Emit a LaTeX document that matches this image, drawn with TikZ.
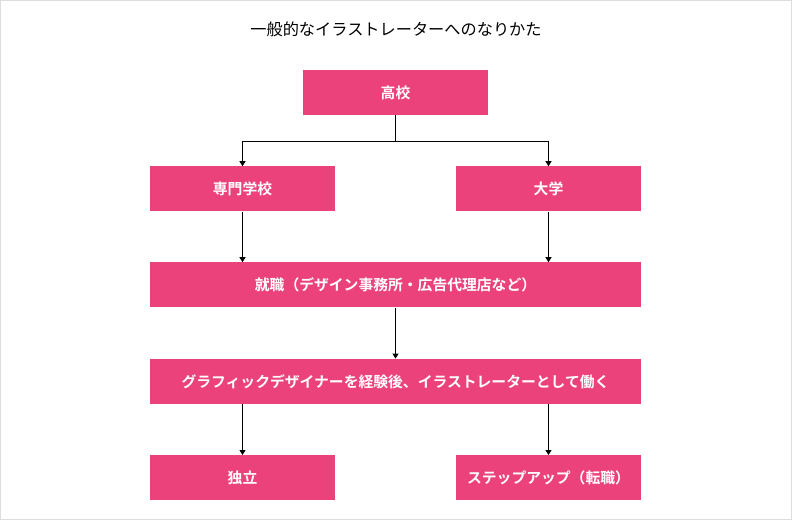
\documentclass[tikz,border=0pt]{standalone}
\usepackage{fontspec}
\usepackage{xcolor}
\usetikzlibrary{arrows.meta, positioning, calc}
\newfontfamily\jpfont{Noto Sans CJK JP}[BoldFont={Noto Sans CJK JP Bold}]
\definecolor{boxpink}{HTML}{EC427C}
\definecolor{framegray}{HTML}{DDDDDD}
\tikzset{stepbox/.style={rectangle,fill=boxpink,text=white,align=center,minimum width=185pt,minimum height=45pt,inner sep=0pt,font=\jpfont\bfseries\fontsize{14.8pt}{17pt}\selectfont},
         widebox/.style={stepbox,minimum width=491pt},
         heading/.style={font=\jpfont\fontsize{16.2pt}{19pt}\selectfont},
         arrow/.style={-{Triangle[width=6pt,length=5pt]},line width=0.9pt}}
\begin{document}
\begin{tikzpicture}[x=1pt,y=1pt,node distance=51pt]
    \draw[framegray,line width=1pt] (0.5,-0.5) rectangle (791.5,-519.5);
    \useasboundingbox (0,0) rectangle (792,-520);
    \node (title) [heading] at (396,-29) {一般的なイラストレーターへのなりかた};
    \node (koko) [stepbox] at (395.5,-92.5) {高校};
    \node (senmon) [stepbox, below=of koko, xshift=-153pt] {専門学校};
    \node (daigaku) [stepbox, below=of koko, xshift=153pt] {大学};
    \node (shushoku) [widebox, below=147pt of koko] {就職（デザイン事務所・広告代理店など）};
    \node (graphic) [widebox, below=of shushoku] {グラフィックデザイナーを経験後、イラストレーターとして働く};
    \node (dokuritsu) [stepbox, below=of graphic.south -| senmon, anchor=north] {独立};
    \node (stepup) [stepbox, below=of graphic.south -| daigaku, anchor=north] {ステップアップ（転職）};
    \coordinate (split) at ($(koko.south)+(0,-26pt)$);
    \draw[line width=0.9pt] (koko) -- (split);
    \draw[arrow] (split) -| (senmon);
    \draw[arrow] (split) -| (daigaku);
    \draw[arrow] (senmon) -- (senmon |- shushoku.north);
    \draw[arrow] (daigaku) -- (daigaku |- shushoku.north);
    \draw[arrow] (shushoku) -- (graphic);
    \draw[arrow] (graphic.south -| dokuritsu) -- (dokuritsu);
    \draw[arrow] (graphic.south -| stepup) -- (stepup);
\end{tikzpicture}
\end{document}
